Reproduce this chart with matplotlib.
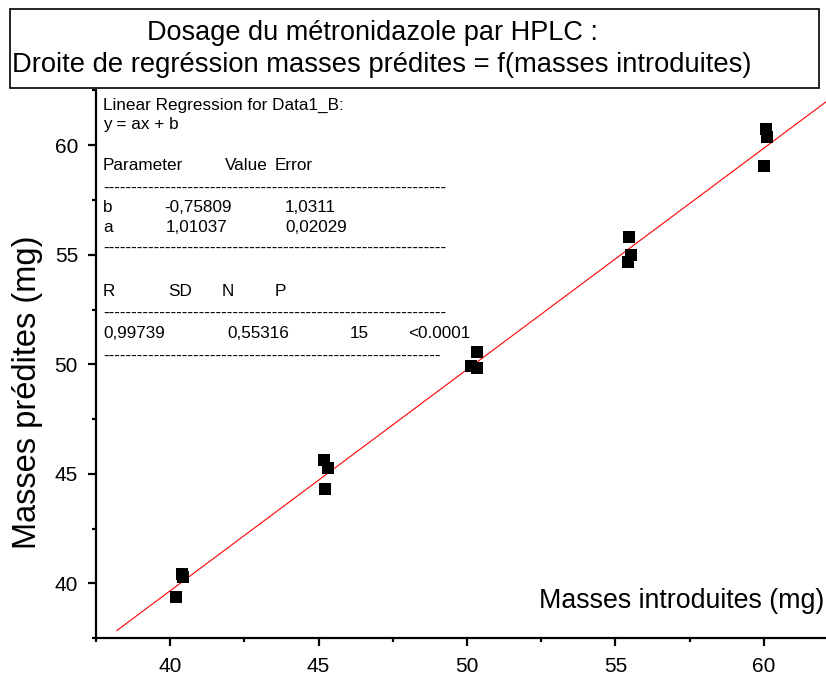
import numpy as np
import matplotlib
matplotlib.use("Agg")
import matplotlib.pyplot as plt
from matplotlib.ticker import MultipleLocator
from matplotlib.patches import Rectangle

plt.rcParams['font.family'] = ['Liberation Sans', 'DejaVu Sans']

# ---- data ----
masses_introduites = [40.20, 40.40, 40.44,
                      45.19, 45.30, 45.23,
                      50.35, 50.15, 50.35,
                      55.45, 55.51, 55.41,
                      60.07, 60.10, 60.00]
masses_predites = [39.36, 40.41, 40.27,
                   45.62, 45.25, 44.29,
                   50.55, 49.91, 49.82,
                   55.80, 54.98, 54.66,
                   60.73, 60.37, 59.04]
slope_a = 1.01037
intercept_b = -0.75809
fit_x_range = [38.2, 62.6]
x_ticks = [40, 45, 50, 55, 60]
y_ticks = [40, 45, 50, 55, 60]

title_line1 = "Dosage du métronidazole par HPLC :"
title_line2 = "Droite de regréssion masses prédites = f(masses introduites)"
xlabel = "Masses introduites (mg)"
ylabel = "Masses prédites (mg)"

W, H = 826, 677
fig = plt.figure(figsize=(W / 100, H / 100), dpi=100)

def fx(px):
    return px / W

def fy(py):
    return 1 - py / H

# axes: xlim 37.5..62.5 maps 96..838 px ; ylim 37.5..62.5 maps 638..90.5 px
ax = fig.add_axes([fx(96), fy(638), (838 - 96) / W, (638 - 90.5) / H])
ax.set_xlim(37.5, 62.5)
ax.set_ylim(37.5, 62.5)
ax.spines['top'].set_visible(False)
ax.spines['right'].set_visible(False)
for s in ('left', 'bottom'):
    ax.spines[s].set_linewidth(1.6)
ax.set_xticks(x_ticks)
ax.set_yticks(y_ticks)
ax.xaxis.set_minor_locator(MultipleLocator(2.5))
ax.yaxis.set_minor_locator(MultipleLocator(2.5))
ax.tick_params(which='major', direction='out', length=6, width=1.6, labelsize=15, pad=8)
ax.tick_params(which='minor', direction='out', length=3, width=1.6)
ax.tick_params(axis='y', which='major', pad=7)

fx_line = np.array(fit_x_range)
ax.plot(fx_line, slope_a * fx_line + intercept_b, color='#ff0000', lw=0.8, clip_on=False, zorder=2)
ax.plot(masses_introduites, masses_predites, 's', color='black', markersize=8.5, zorder=3,
        markeredgewidth=0)

# axis labels
fig.text(fx(28), fy(392), ylabel, rotation=90, fontsize=23.5, ha='center', va='center')
fig.text(fx(824), fy(608), xlabel, fontsize=19.3, ha='right', va='baseline')

# title box
box = Rectangle((fx(10), fy(88)), fx(819) - fx(10), fy(9) - fy(88), transform=fig.transFigure,
                facecolor='white', edgecolor='black', linewidth=1.2, zorder=10)
fig.patches.append(box)
fig.text(fx(147), fy(40), title_line1, fontsize=19.5, ha='left', va='baseline', zorder=11)
fig.text(fx(12), fy(72), title_line2, fontsize=19.7, ha='left', va='baseline', zorder=11)

# regression report
fs = 12.3
def t(x, y, s):
    fig.text(fx(x), fy(y), s, fontsize=fs, ha='left', va='center', zorder=5)

t(103, 105, "Linear Regression for Data1_B:")
t(103, 125, "y = ax + b")
t(103, 165, "Parameter")
t(225, 165, "Value")
t(275, 165, "Error")
t(103, 188, "-" * 61)
t(103, 208, "b")
t(164, 208, "-0,75809")
t(285, 208, "1,0311")
t(103, 228, "a")
t(166, 228, "1,01037")
t(285, 228, "0,02029")
t(103, 248, "-" * 61)
t(103, 292, "R")
t(168, 292, "SD")
t(222, 292, "N")
t(275, 292, "P")
t(103, 313, "-" * 61)
t(103, 333, "0,99739")
t(227, 333, "0,55316")
t(350, 333, "15")
t(408, 333, "<0.0001")
t(103, 356, "-" * 60)

fig.savefig("out.png", dpi=100)
